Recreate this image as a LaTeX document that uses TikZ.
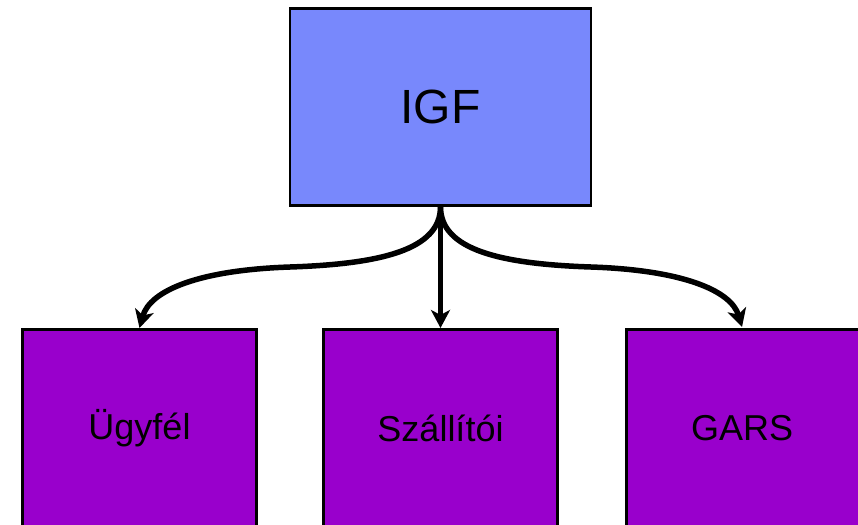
\documentclass[tikz,border=0pt]{standalone}
\usepackage{fontspec}
\setmainfont{Liberation Sans}
\usetikzlibrary{arrows.meta}
\definecolor{topblue}{HTML}{7888FC}
\definecolor{boxpurple}{HTML}{9900CC}
\tikzset{
  topbox/.style={draw=black, line width=2.5pt, fill=topblue, minimum width=301pt, minimum height=197pt, inner sep=0pt, font=\fontsize{48}{48}\selectfont},
  subbox/.style={draw=black, line width=2.5pt, fill=boxpurple, minimum width=234pt, minimum height=240pt, inner sep=0pt},
  lbl/.style={font=\fontsize{36}{36}\selectfont, inner sep=0pt},
  conn/.style={line width=5.5pt, -{Stealth[length=18pt,width=19pt,inset=5pt]}}
}
\begin{document}
\begin{tikzpicture}[x=1pt,y=-1pt]
\useasboundingbox (0,0) rectangle (858,524);
\clip (0,0) rectangle (858,524);
\node[topbox] (igf) at (440.5,107) {IGF};
\node[subbox, anchor=north] (u) at (139.5,328) {};
\node[subbox, anchor=north] (s) at (440.5,328) {};
\node[subbox, anchor=north west] (g) at (625,328) {};
\node[lbl] (ut) at (139.5,428) {Ügyfél};
\node[lbl] (st) at (440.5,428) {Szállítói};
\node[lbl] (gt) at (742,428) {GARS};
\coordinate (ml) at (290,267);
\coordinate (mr) at (591,267);
\coordinate (gtop) at (742,327);
\draw[conn] (igf.south) .. controls (440.5,250) and (380,264) .. (ml) .. controls (200,270) and (150,290) .. (u.north);
\draw[conn] (igf.south) -- (s.north);
\draw[conn] (igf.south) .. controls (440.5,250) and (501,264) .. (mr) .. controls (681,270) and (731,290) .. (gtop);
\end{tikzpicture}
\end{document}
